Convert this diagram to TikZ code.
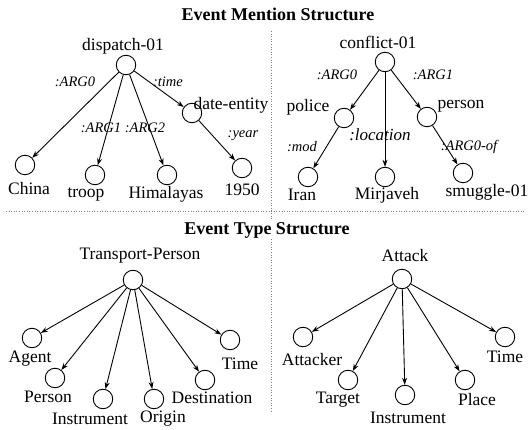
\documentclass[tikz,border=0pt]{standalone}
\usepackage{fontspec}
\setmainfont{Liberation Serif}
\usetikzlibrary{arrows.meta}
\begin{document}
\begin{tikzpicture}[x=1pt,y=-1pt,
  cnode/.style={circle,draw,line width=0.9pt,minimum size=19.5pt,inner sep=0pt},
  lbl/.style={font=\fontsize{17.5}{20}\selectfont,inner sep=0pt},
  elbl/.style={font=\fontsize{14.5}{17}\selectfont\itshape,inner sep=0pt},
  ttl/.style={font=\fontsize{18}{20}\selectfont\bfseries,inner sep=0pt},
  arr/.style={-{Stealth[length=7pt,width=5pt]},line width=0.9pt},
  sep/.style={gray,dotted,line width=0.6pt}]
\useasboundingbox (0,0) rectangle (531,430);
% separators
\coordinate (h1) at (6,211); \coordinate (h2) at (526,211);
\coordinate (v1) at (271,31); \coordinate (v2) at (271,413);
\draw[sep] (h1) -- (h2);
\draw[sep] (v1) -- (v2);
% titles
\node[ttl,fill=white,inner sep=1pt] (t1) at (278,14) {Event Mention Structure};
\node[ttl,fill=white,inner sep=1pt] (t2) at (267,230) {Event Type Structure};
% ---------- top-left ----------
\node[cnode] (d) at (126,65) {};
\node[lbl] (dl) at (123,46) {dispatch-01};
\node[cnode] (ch) at (25,165) {};
\node[lbl] (chl) at (29,189) {China};
\node[cnode] (tr) at (95,175) {};
\node[lbl] (trl) at (86,194) {troop};
\node[cnode] (hi) at (167,175) {};
\node[lbl] (hil) at (166,194) {Himalayas};
\node[cnode] (de) at (192,113) {};
\node[lbl] (del) at (231,105) {date-entity};
\node[cnode] (ye) at (242,168) {};
\node[lbl] (yel) at (242,190) {1950};
\draw[arr] (d) -- (ch);
\draw[arr] (d) -- (tr);
\draw[arr] (d) -- (hi);
\draw[arr] (d) -- (de);
\draw[arr] (de) -- (ye);
\node[elbl] (e1) at (75,82) {:ARG0};
\node[elbl] (e2) at (168,82) {:time};
\node[elbl] (e3) at (101,128) {:ARG1};
\node[elbl] (e4) at (145,128) {:ARG2};
\node[elbl] (e5) at (243,136) {:year};
% ---------- top-right ----------
\node[cnode] (c) at (385,62) {};
\node[lbl] (cl) at (378,42) {conflict-01};
\node[cnode] (po) at (344,118) {};
\node[lbl] (pol) at (308,107) {police};
\node[cnode] (pe) at (427,117) {};
\node[lbl] (pel) at (461,106) {person};
\node[cnode] (ir) at (308,177) {};
\node[lbl] (irl) at (302,195) {Iran};
\node[cnode] (mi) at (385,177) {};
\node[lbl] (mil) at (387,195) {Mirjaveh};
\node[cnode] (sm) at (463,173) {};
\node[lbl] (sml) at (487,192) {smuggle-01};
\draw[arr] (c) -- (po);
\draw[arr] (c) -- (pe);
\draw[arr] (c) -- (mi);
\draw[arr] (po) -- (ir);
\draw[arr] (pe) -- (sm);
\node[elbl] (f1) at (337,75) {:ARG0};
\node[elbl] (f2) at (433,75) {:ARG1};
\node[elbl] (f3) at (302,147) {:mod};
\node[elbl,font=\fontsize{17}{19}\selectfont\itshape] (f4) at (380,135) {:location};
\node[elbl] (f5) at (469,147) {:ARG0-of};
% ---------- bottom-left ----------
\node[cnode] (tp) at (133,280) {};
\node[lbl] (tpl) at (140,256) {Transport-Person};
\node[cnode] (ag) at (32,338) {};
\node[lbl] (agl) at (30,359) {Agent};
\node[cnode] (ps) at (55,378) {};
\node[lbl] (psl) at (48,397) {Person};
\node[cnode] (in) at (103,399) {};
\node[lbl] (inl) at (90,419) {Instrument};
\node[cnode] (or) at (154,399) {};
\node[lbl] (orl) at (163,419) {Origin};
\node[cnode] (ds) at (205,380) {};
\node[lbl] (dsl) at (212,398) {Destination};
\node[cnode] (ti) at (230,340) {};
\node[lbl] (til) at (240,364) {Time};
\foreach \t in {ag,ps,in,or,ds,ti} \draw[arr] (tp) -- (\t);
% ---------- bottom-right ----------
\node[cnode] (at) at (402,279) {};
\node[lbl] (atl) at (405,256) {Attack};
\node[cnode] (ak) at (303,337) {};
\node[lbl] (akl) at (312,360) {Attacker};
\node[cnode] (tg) at (348,380) {};
\node[lbl] (tgl) at (338,400) {Target};
\node[cnode] (i2) at (405,395) {};
\node[lbl] (i2l) at (408,418) {Instrument};
\node[cnode] (pl) at (465,380) {};
\node[lbl] (pll) at (477,400) {Place};
\node[cnode] (t3) at (505,337) {};
\node[lbl] (t3l) at (505,357) {Time};
\foreach \t in {ak,tg,i2,pl,t3} \draw[arr] (at) -- (\t);
\end{tikzpicture}
\end{document}
